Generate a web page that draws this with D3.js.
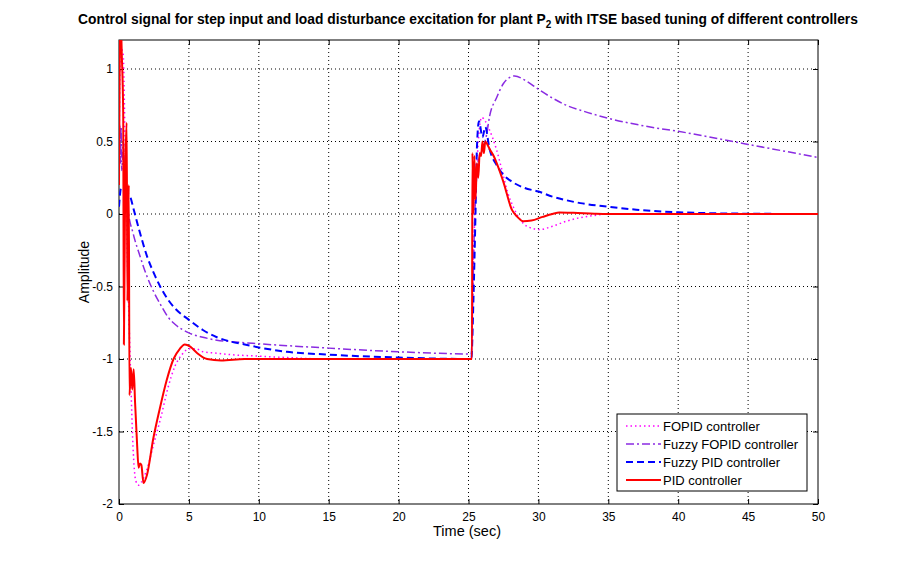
<!DOCTYPE html>
<html>
<head>
<meta charset="utf-8">
<script src="https://cdn.jsdelivr.net/npm/d3@7"></script>
<style>
  body { margin: 0; background: #fff; }
  svg { font-family: "Liberation Sans", Arial, sans-serif; }
</style>
</head>
<body>
<div id="main"></div>
<script>
// series values (time in sec, amplitude)
var fopidT = [0, 0.1, 0.3, 0.45, 0.6, 0.8, 1.0, 1.2, 1.4, 1.6, 2.0, 2.5, 3.0, 3.5, 4.0, 4.5, 5.0, 5.5, 6, 7, 8, 10, 12, 15, 25.2,
  25.3, 25.5, 25.7, 25.95, 26.2, 26.5, 27.0, 27.4, 27.8, 28.2, 28.7, 29.3, 30.1, 31.0, 32.0, 33.0, 34.0, 35.0, 50];
var fopidV = [0.3, 1.15, 1.1, 0.4, -0.3, -1.0, -1.6, -1.84, -1.87, -1.85, -1.76, -1.58, -1.4, -1.2, -1.05, -0.97, -0.93, -0.93, -0.95, -0.96, -0.97, -0.98, -0.99, -1.0, -1.0,
  -0.5, 0.1, 0.5, 0.667, 0.64, 0.58, 0.445, 0.3, 0.15, 0.05, -0.04, -0.09, -0.107, -0.085, -0.05, -0.025, -0.01, 0, 0];

var fuzzyFopidT = [0, 0.05, 0.1, 0.15, 0.2, 0.3, 0.4, 0.5, 0.65, 1.0, 1.5, 2.0, 2.5, 3.0, 3.5, 4.0, 5.0, 6.0, 7.0, 8, 10, 15, 20, 25.2,
  25.3, 25.45, 25.6, 25.8, 26.0, 26.3, 26.5, 27.0, 27.5, 28.0, 28.3, 29.0, 30.0, 31.0, 32.0, 33.2, 35, 38, 40, 45, 50];
var fuzzyFopidV = [0.3, 0.62, 0.35, 0.6, 0.3, 0.5, 0.3, 0.2, 0.03, -0.13, -0.29, -0.43, -0.54, -0.63, -0.71, -0.76, -0.82, -0.85, -0.87, -0.88, -0.895, -0.925, -0.95, -0.965,
  -0.6, 0.0, 0.3, 0.4, 0.445, 0.55, 0.67, 0.8, 0.9, 0.945, 0.952, 0.925, 0.86, 0.8, 0.75, 0.71, 0.66, 0.6, 0.57, 0.48, 0.39];

var fuzzyPidT = [0, 0.15, 0.3, 0.5, 0.8, 1.0, 1.5, 2.0, 2.5, 3.0, 3.5, 4.0, 5.0, 6, 7, 8, 9, 10, 12, 15, 20, 25.2,
  25.35, 25.5, 25.6, 25.75, 26.0, 26.2, 26.5, 27, 27.5, 28, 29, 30, 31, 32, 33, 35, 37, 40, 45, 50];
var fuzzyPidV = [0.05, 0.18, 0.17, 0.15, 0.12, 0.05, -0.13, -0.29, -0.41, -0.51, -0.59, -0.65, -0.73, -0.8, -0.85, -0.88, -0.9, -0.92, -0.95, -0.97, -0.99, -1.0,
  -0.6, 0.0, 0.45, 0.64, 0.53, 0.6, 0.45, 0.34, 0.27, 0.23, 0.18, 0.155, 0.12, 0.095, 0.075, 0.05, 0.03, 0.012, 0.002, 0];

var pidT = [0, 0.1, 0.2, 0.3, 0.35, 0.45, 0.55, 0.6, 0.7, 0.75, 0.85, 0.95, 1.05, 1.15, 1.3, 1.4, 1.5, 1.6, 1.75, 2.0, 2.45, 2.9, 3.4, 3.9, 4.35, 4.7, 5.1, 5.6, 6.3, 7.3, 9.0, 25.2,
  25.25, 25.28, 25.35, 25.42, 25.5, 25.6, 25.7, 25.8, 25.9, 26.0, 26.1, 26.2, 26.35, 26.5, 26.8, 27.1, 27.5, 28.1, 28.5, 28.9, 29.5, 30.3, 31.0, 31.5, 32.5, 34, 35, 50];
var pidV = [0.2, 1.4, 1.1, 0.7, -0.9, 0.3, 0.63, -0.6, 0.2, -1.25, -1.06, -1.21, -1.07, -1.3, -1.6, -1.75, -1.72, -1.73, -1.855, -1.8, -1.55, -1.35, -1.15, -1.0, -0.93, -0.9, -0.915, -0.96, -1.0, -1.01, -1.0, -1.0,
  -1.0, 0.42, 0.0, 0.4, 0.1, 0.35, 0.25, 0.42, 0.4, 0.5, 0.42, 0.5, 0.48, 0.45, 0.4, 0.33, 0.22, 0.03, -0.02, -0.05, -0.045, -0.02, 0.0, 0.01, 0.008, 0.002, 0, 0];

var seriesNames = ["FOPID controller", "Fuzzy FOPID controller", "Fuzzy PID controller", "PID controller"];
var seriesColors = ["#ff00ff", "#8a2be2", "#0000ff", "#ff0000"];
var xTicks = [0, 5, 10, 15, 20, 25, 30, 35, 40, 45, 50];
var yTicks = [-2, -1.5, -1, -0.5, 0, 0.5, 1];

var W = 904, H = 568;
var margin = { top: 40, right: 86, bottom: 64, left: 119 };
var width = W - margin.left - margin.right;
var height = H - margin.top - margin.bottom;

var svg = d3.select("#main").append("svg")
  .attr("width", W).attr("height", H);

var g = svg.append("g")
  .attr("transform", "translate(" + margin.left + "," + margin.top + ")");

var x = d3.scaleLinear().domain([0, 50]).range([0, width]);
var y = d3.scaleLinear().domain([-2, 1.2]).range([height, 0]);

// grid
g.selectAll(".gx").data(xTicks.slice(1, -1)).enter().append("line")
  .attr("x1", function (d) { return x(d); }).attr("x2", function (d) { return x(d); })
  .attr("y1", 0).attr("y2", height)
  .attr("stroke", "#000").attr("stroke-width", 1).attr("stroke-dasharray", "1,3");
g.selectAll(".gy").data(yTicks.slice(1)).enter().append("line")
  .attr("x1", 0).attr("x2", width)
  .attr("y1", function (d) { return y(d); }).attr("y2", function (d) { return y(d); })
  .attr("stroke", "#000").attr("stroke-width", 1).attr("stroke-dasharray", "1,3");

// axes
g.append("g").attr("transform", "translate(0," + height + ")")
  .call(d3.axisBottom(x).tickValues(xTicks).tickSize(-5).tickPadding(8).tickFormat(d3.format("d")));
g.append("g")
  .call(d3.axisLeft(y).tickValues(yTicks).tickSize(-5).tickPadding(6).tickFormat(function (d) { return d; }));
g.append("g").call(d3.axisTop(x).tickValues(xTicks).tickSize(-5).tickFormat(""));
g.append("g").attr("transform", "translate(" + width + ",0)")
  .call(d3.axisRight(y).tickValues(yTicks).tickSize(-5).tickFormat(""));
g.selectAll(".domain").remove();
g.selectAll(".tick text").attr("font-size", 12).attr("fill", "#000")
  .attr("font-family", "Liberation Sans, Arial, sans-serif");
g.append("rect").attr("width", width).attr("height", height)
  .attr("fill", "none").attr("stroke", "#000").attr("stroke-width", 1);

// curves
g.append("clipPath").attr("id", "clip").append("rect")
  .attr("width", width).attr("height", height);

var line = d3.line()
  .curve(d3.curveMonotoneX)
  .x(function (d) { return x(d[0]); })
  .y(function (d) { return y(d[1]); });

function zip(t, v) { return t.map(function (d, i) { return [d, v[i]]; }); }

var series = [
  { data: zip(fopidT, fopidV), dash: "1.5,3", w: 1.5 },
  { data: zip(fuzzyFopidT, fuzzyFopidV), dash: "8,3,2,3", w: 1.5 },
  { data: zip(fuzzyPidT, fuzzyPidV), dash: "7,4", w: 2 },
  { data: zip(pidT, pidV), dash: null, w: 2 }
];

var plot = g.append("g").attr("clip-path", "url(#clip)");
series.forEach(function (s, i) {
  plot.append("path").datum(s.data)
    .attr("d", line)
    .attr("fill", "none")
    .attr("stroke", seriesColors[i])
    .attr("stroke-width", s.w)
    .attr("stroke-dasharray", s.dash);
});

// title & labels
var title = svg.append("text").attr("x", 468).attr("y", 24)
  .attr("text-anchor", "middle").attr("font-size", 13.8).attr("font-weight", "bold");
title.append("tspan").text("Control signal for step input and load disturbance excitation for plant P");
title.append("tspan").attr("font-size", 10).attr("dy", 4).text("2");
title.append("tspan").attr("dy", -4).text(" with ITSE based tuning of different controllers");

svg.append("text").attr("x", 467).attr("y", 536)
  .attr("text-anchor", "middle").attr("font-size", 14.5).text("Time (sec)");
svg.append("text").attr("transform", "translate(89," + (margin.top + height / 2) + ") rotate(-90)")
  .attr("text-anchor", "middle").attr("font-size", 14).text("Amplitude");

// legend
var lg = svg.append("g").attr("transform", "translate(617,414)");
lg.append("rect").attr("width", 190).attr("height", 77)
  .attr("fill", "#fff").attr("stroke", "#000").attr("stroke-width", 1);
series.forEach(function (s, i) {
  var yy = 12 + i * 18;
  lg.append("line").attr("x1", 9).attr("x2", 44).attr("y1", yy).attr("y2", yy)
    .attr("stroke", seriesColors[i]).attr("stroke-width", s.w)
    .attr("stroke-dasharray", s.dash);
  lg.append("text").attr("x", 46).attr("y", yy + 4.5)
    .attr("font-size", 13).text(seriesNames[i]);
});
</script>
</body>
</html>
